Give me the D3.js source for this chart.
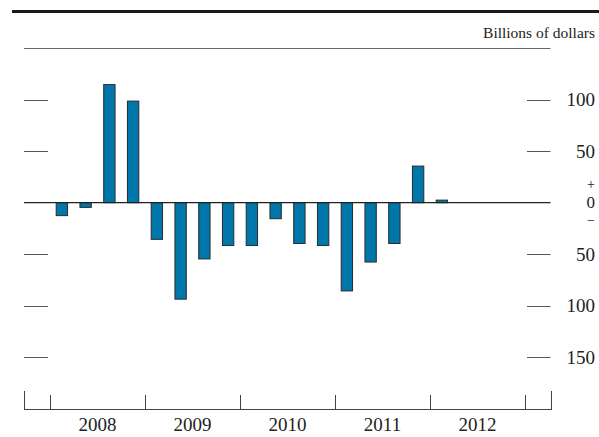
<!DOCTYPE html>
<html>
<head>
<meta charset="utf-8">
<script src="https://cdn.jsdelivr.net/npm/d3@7"></script>
<style>
  html, body { margin: 0; padding: 0; background: #fff; }
  svg { display: block; }
  text { font-family: "Liberation Serif", "Times New Roman", serif; fill: #222; }
</style>
</head>
<body>
<svg id="chart" width="599" height="437"></svg>
<script>
// ---- data ----
const quarters = ["2008Q1","2008Q2","2008Q3","2008Q4","2009Q1","2009Q2","2009Q3","2009Q4",
                  "2010Q1","2010Q2","2010Q3","2010Q4","2011Q1","2011Q2","2011Q3","2011Q4","2012Q1"];
const values = [-13, -5, 115, 99, -36, -94, -55, -42, -42, -16, -40, -42, -86, -58, -40, 36, 3];
const years = [2008, 2009, 2010, 2011, 2012];
const yTicks = [100, 50, -50, -100, -150];
const unitLabel = "Billions of dollars";

(function () {
// ---- layout ----
const svg = d3.select("#chart");
const pL = 24, pR = 550.5, pT = 48, pB = 409;

const y = d3.scaleLinear().domain([-200, 150]).range([pB, pT]);
const xYear = d3.scaleLinear().domain([2008, 2013]).range([50, 525]);
const qW = xYear(2008.25) - xYear(2008);
const barW = qW * 0.52;
const qPos = q => {
  const yr = +q.slice(0, 4), qq = +q.slice(5);
  return yr + (qq - 0.5) / 4;
};

// top thick rule
svg.append("line").attr("x1", 12).attr("x2", 599).attr("y1", 11.5).attr("y2", 11.5)
  .attr("stroke", "#1a1a1a").attr("stroke-width", 3);

// unit label
svg.append("text").attr("x", 595).attr("y", 37.5).attr("text-anchor", "end")
  .style("font-size", "15.5px").text(unitLabel);

// top thin line
svg.append("line").attr("x1", pL).attr("x2", pR).attr("y1", pT + 0.5).attr("y2", pT + 0.5)
  .attr("stroke", "#666").attr("stroke-width", 1);

// y ticks left and right
const tickG = svg.append("g");
yTicks.forEach(v => {
  const yy = Math.round(y(v)) + 0.5;
  tickG.append("line").attr("x1", pL).attr("x2", 48).attr("y1", yy).attr("y2", yy)
    .attr("stroke", "#555").attr("stroke-width", 1);
  tickG.append("line").attr("x1", 527).attr("x2", pR).attr("y1", yy).attr("y2", yy)
    .attr("stroke", "#555").attr("stroke-width", 1);
  tickG.append("text").attr("x", 595).attr("y", y(v)).attr("dy", "0.34em")
    .attr("text-anchor", "end").style("font-size", "19px").text(Math.abs(v));
});

// zero labels (+ / 0 / −)
const y0 = y(0);
svg.append("text").attr("x", 595).attr("y", y0 - 14).attr("text-anchor", "end")
  .style("font-size", "14px").text("+");
svg.append("text").attr("x", 595).attr("y", y0).attr("dy", "0.34em").attr("text-anchor", "end")
  .style("font-size", "17px").text("0");
svg.append("text").attr("x", 595).attr("y", y0 + 22.5).attr("text-anchor", "end")
  .style("font-size", "14px").text("\u2212");

// bars
svg.append("g").selectAll("rect").data(quarters).join("rect")
  .attr("x", (d) => xYear(qPos(d)) - barW / 2 + 0.5)
  .attr("width", barW - 1)
  .attr("y", (d, i) => values[i] >= 0 ? y(values[i]) + 0.5 : y0)
  .attr("height", (d, i) => Math.abs(y(values[i]) - y0) - 0.5)
  .attr("fill", "#0077aa")
  .attr("stroke", "#2a2a2a")
  .attr("stroke-width", 1);

// zero line
svg.append("line").attr("x1", pL).attr("x2", pR).attr("y1", y0).attr("y2", y0)
  .attr("stroke", "#222").attr("stroke-width", 1.2);

// bottom axis
const ax = svg.append("g");
ax.append("line").attr("x1", pL).attr("x2", pR + 0.5).attr("y1", pB + 0.5).attr("y2", pB + 0.5)
  .attr("stroke", "#444").attr("stroke-width", 1);
[pL, pR].forEach(xx => {
  ax.append("line").attr("x1", Math.round(xx) + 0.5).attr("x2", Math.round(xx) + 0.5)
    .attr("y1", 391).attr("y2", pB + 1).attr("stroke", "#444").attr("stroke-width", 1);
});
[...years, 2013].forEach(yr => {
  const xx = Math.round(xYear(yr)) + 0.5;
  ax.append("line").attr("x1", xx).attr("x2", xx).attr("y1", 395).attr("y2", pB + 1)
    .attr("stroke", "#444").attr("stroke-width", 1);
});
years.forEach(yr => {
  ax.append("text").attr("x", xYear(yr + 0.5)).attr("y", 431).attr("text-anchor", "middle")
    .style("font-size", "19px").text(yr);
});
})();
</script>
</body>
</html>
